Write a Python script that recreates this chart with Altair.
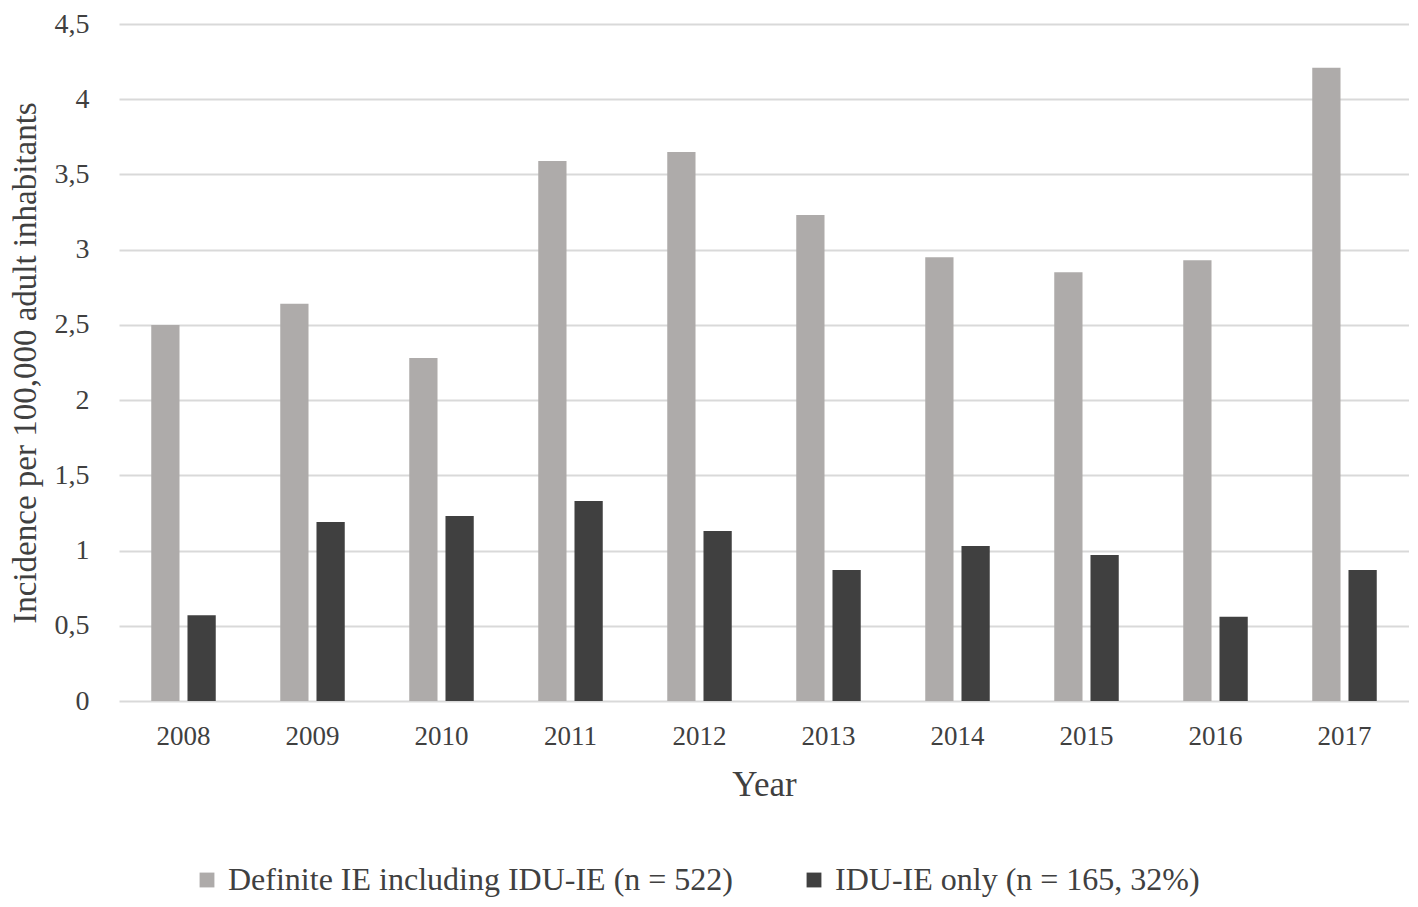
import altair as alt
import pandas as pd

years = ["2008", "2009", "2010", "2011", "2012", "2013", "2014", "2015", "2016", "2017"]
definite = [2.50, 2.64, 2.28, 3.59, 3.65, 3.23, 2.95, 2.85, 2.93, 4.21]
idu = [0.57, 1.19, 1.23, 1.33, 1.13, 0.87, 1.03, 0.97, 0.56, 0.87]
series = ["Definite IE including IDU-IE (n = 522)", "IDU-IE only (n = 165, 32%)"]
colors = ["#aeabaa", "#404040"]

rows = []
for i, y in enumerate(years):
    rows.append({"Year": y, "Series": series[0], "Value": definite[i]})
    rows.append({"Year": y, "Series": series[1], "Value": idu[i]})
df = pd.DataFrame(rows)

FONT = "Liberation Serif"

chart = alt.Chart(df).mark_bar().encode(
    x=alt.X("Year:N", sort=years,
            scale=alt.Scale(paddingInner=0.5, paddingOuter=0.25),
            axis=alt.Axis(title="Year", labelAngle=0, ticks=False, domain=False,
                          labelFontSize=27, labelPadding=22, labelColor="#404040",
                          titleFontSize=35, titleFontWeight="normal", titlePadding=18,
                          titleColor="#404040", labelFont=FONT, titleFont=FONT)),
    xOffset=alt.XOffset("Series:N", sort=series,
                        scale=alt.Scale(paddingInner=0.22, paddingOuter=0)),
    y=alt.Y("Value:Q", scale=alt.Scale(domain=[0, 4.5], nice=False),
            axis=alt.Axis(title="Incidence per 100,000 adult inhabitants",
                          values=[0, 0.5, 1, 1.5, 2, 2.5, 3, 3.5, 4, 4.5],
                          labelExpr="replace(toString(datum.value), '.', ',')",
                          ticks=False, domain=False, gridColor="#d9d9d9", gridWidth=2,
                          labelFontSize=28, labelPadding=30, labelColor="#404040",
                          titleFontSize=33, titleFontWeight="normal", titlePadding=12,
                          titleColor="#404040", labelFont=FONT, titleFont=FONT)),
    color=alt.Color("Series:N", sort=series,
                    scale=alt.Scale(domain=series, range=colors),
                    legend=alt.Legend(title=None, orient="none", direction="horizontal",
                                      legendX=72, legendY=840,
                                      symbolType="square", symbolSize=220,
                                      symbolStrokeWidth=0, labelFontSize=32,
                                      labelFont=FONT, labelColor="#404040",
                                      labelOffset=5, columnPadding=64,
                                      labelLimit=900)),
).properties(
    width=1290, height=677,
    autosize=alt.AutoSizeParams(type="none"),
    padding={"left": 111, "top": 16, "right": 0, "bottom": 198},
).configure_view(stroke=None)

chart.save("out.html", embed_options={"renderer": "svg", "actions": False})
